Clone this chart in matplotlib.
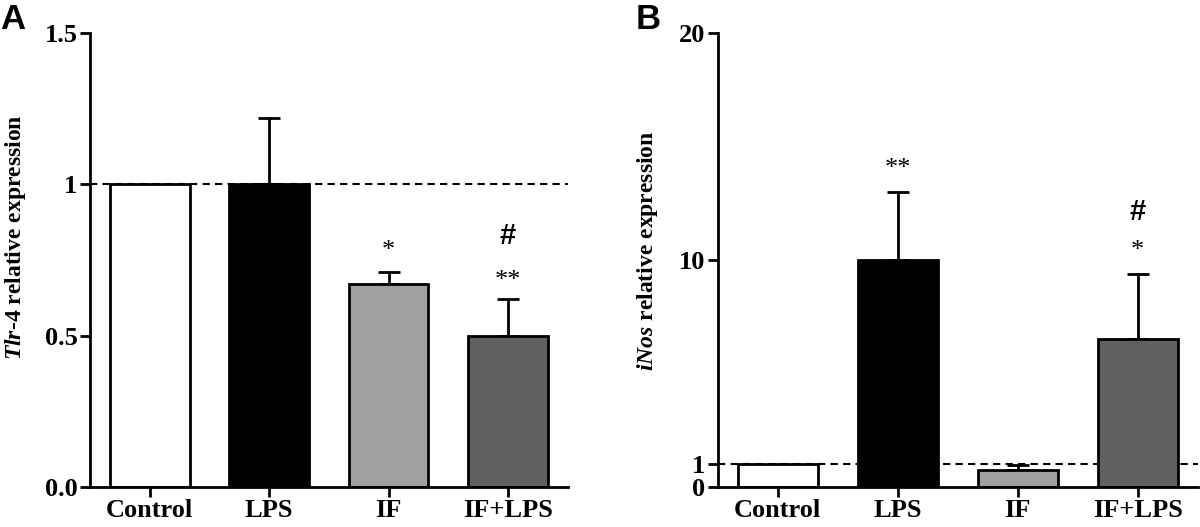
import matplotlib
matplotlib.use("Agg")
import matplotlib.pyplot as plt
import numpy as np

# ---- data ----
categories = ["Control", "LPS", "IF", "IF+LPS"]
colors = ["#ffffff", "#000000", "#a0a0a0", "#606060"]

tlr4_values = [1.00, 1.00, 0.67, 0.50]
tlr4_errors = [0.00, 0.22, 0.04, 0.12]
tlr4_ticks = [0.0, 0.5, 1.0, 1.5]
tlr4_ticklabels = ["0.0", "0.5", "1", "1.5"]
tlr4_star = ["", "", "*", "**"]
tlr4_star_y = [None, None, 0.78, 0.68]
tlr4_hash = ["", "", "", "#"]
tlr4_hash_y = [None, None, None, 0.83]

inos_values = [1.00, 10.0, 0.75, 6.5]
inos_errors = [0.00, 3.0, 0.2, 2.9]
inos_ticks = [0, 1, 10, 20]
inos_ticklabels = ["0", "1", "10", "20"]
inos_star = ["", "**", "", "*"]
inos_star_y = [None, 14.0, None, 10.4]
inos_hash = ["", "", "", "#"]
inos_hash_y = [None, None, None, 12.1]

plt.rcParams["mathtext.fontset"] = "custom"
plt.rcParams["mathtext.it"] = "Liberation Serif:italic:bold"
plt.rcParams["mathtext.rm"] = "Liberation Serif:bold"

SERIF = "Liberation Serif"

fig = plt.figure(figsize=(12, 5.27), dpi=100)
axA = fig.add_axes([0.075, 0.076, 0.398, 0.861])
axB = fig.add_axes([0.598, 0.076, 0.400, 0.861])


def draw(ax, values, errors, ticks, ticklabels, ylim, ylabel,
         stars, stars_y, hashes, hashes_y, label_x, label_y):
    x = np.arange(len(categories))
    ax.axhline(1.0, color="black", lw=1.5, ls=(0, (3.5, 2.5)), zorder=1,
               clip_on=False)
    ax.bar(x, values, width=0.667, color=colors, edgecolor="black",
           linewidth=2, zorder=2)
    for xi, v, e in zip(x, values, errors):
        if e > 0:
            ax.errorbar(xi, v, yerr=[[0], [e]], fmt="none", ecolor="black",
                        elinewidth=2, capsize=8, capthick=2, zorder=1.5)
    for xi, s, sy in zip(x, stars, stars_y):
        if s:
            ax.text(xi, sy, s, ha="center", va="center", fontsize=19,
                    family=SERIF, fontweight="normal")
    for xi, h, hy in zip(x, hashes, hashes_y):
        if h:
            ax.text(xi, hy, h, ha="center", va="center", fontsize=21,
                    family="Liberation Sans", fontweight="bold")
    ax.set_xlim(-0.5, 3.5)
    ax.set_ylim(*ylim)
    ax.set_yticks(ticks)
    ax.set_yticklabels(ticklabels)
    ax.set_xticks(x)
    ax.set_xticklabels(categories)
    for lab in ax.get_xticklabels() + ax.get_yticklabels():
        lab.set_family(SERIF)
        lab.set_fontweight("bold")
        lab.set_fontsize(19)
    ax.spines["top"].set_visible(False)
    ax.spines["right"].set_visible(False)
    ax.spines["left"].set_linewidth(2)
    ax.spines["bottom"].set_linewidth(2)
    ax.tick_params(axis="both", direction="out", length=7, width=2,
                   pad=2)
    ax.set_ylabel(ylabel, family=SERIF, fontweight="bold", fontsize=17)
    ax.yaxis.set_label_coords(label_x, label_y)


draw(axA, tlr4_values, tlr4_errors, tlr4_ticks, tlr4_ticklabels, (0, 1.5),
     r"$\mathit{Tlr}$-$\mathit{4}$ relative expression",
     tlr4_star, tlr4_star_y, tlr4_hash, tlr4_hash_y, -0.13, 0.55)
draw(axB, inos_values, inos_errors, inos_ticks, inos_ticklabels, (0, 20),
     r"$\mathit{iNos}$ relative expression",
     inos_star, inos_star_y, inos_hash, inos_hash_y, -0.12, 0.52)

fig.text(0.0, 0.995, "A", family="Liberation Sans", fontweight="bold",
         fontsize=25, ha="left", va="top")
fig.text(0.530, 0.995, "B", family="Liberation Sans", fontweight="bold",
         fontsize=25, ha="left", va="top")

fig.savefig("out.png", dpi=100)
